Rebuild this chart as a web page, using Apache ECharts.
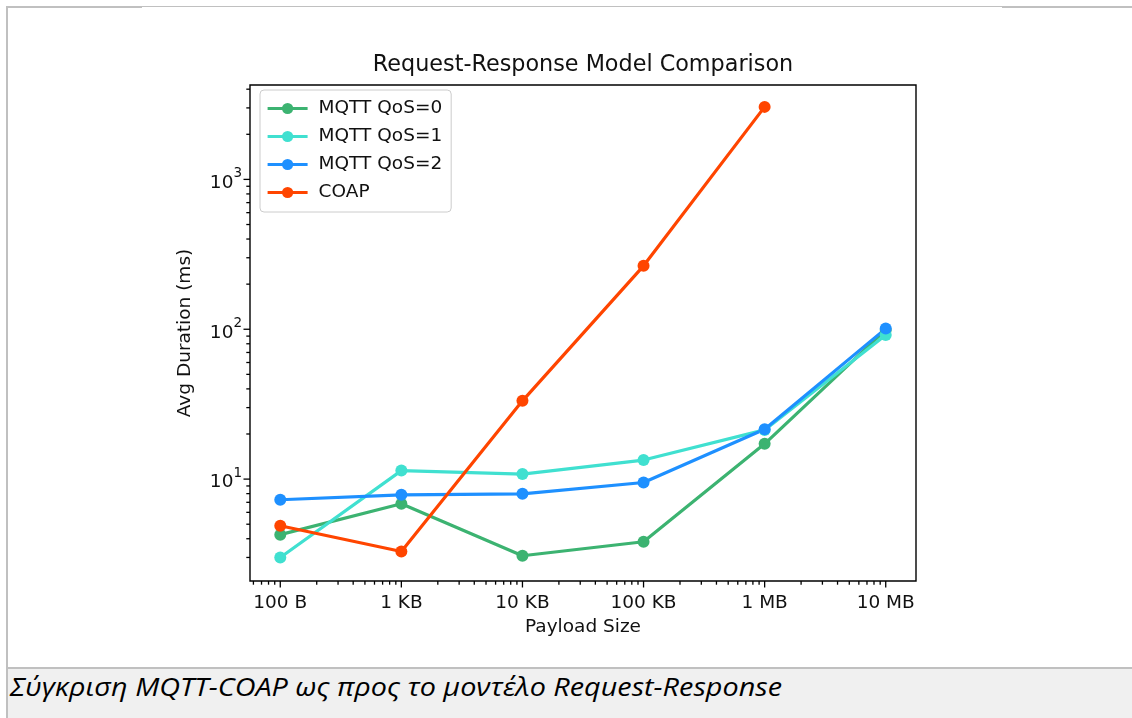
<!DOCTYPE html>
<html>
<head>
<meta charset="utf-8">
<title>Request-Response Model Comparison</title>
<script src="https://cdn.jsdelivr.net/npm/echarts@6/dist/echarts.min.js"></script>
<style>
html, body { margin: 0; padding: 0; background: #fff; overflow: hidden; }
.page { position: relative; width: 1132px; height: 718px; }
#chart { position: absolute; left: 0; top: 0; width: 1132px; height: 718px; }
.line { position: absolute; background: #c0c0c0; }
.caption {
  position: absolute; left: 8px; right: 0; top: 667px; bottom: 0;
  border-top: 2px solid #c0c0c0; background: #f0f0f0;
}
.caption span {
  position: absolute; left: 2px; top: 5px;
  font: italic 25px/25px "Open Sans", sans-serif; color: #000;
  white-space: nowrap; transform-origin: left center;
}
</style>
</head>
<body>
<div class="page">
  <div id="chart"></div>
  <!-- document table borders round the figure -->
  <div class="line" style="left:6px; right:0; top:6px; height:1px;"></div>
  <div class="line" style="left:6px; width:136px; top:6px; height:2px;"></div>
  <div class="line" style="left:1002px; right:0; top:6px; height:2px;"></div>
  <div class="line" style="left:6px; width:2px; top:6px; bottom:0;"></div>
  <div class="caption"><span id="cap">Σύγκριση MQTT-COAP ως προς το μοντέλο Request-Response</span></div>
</div>
<script>
// data (payload size in bytes, avg duration in ms)
const sizes = [100, 1000, 10000, 100000, 1000000, 10000000];
const sizeLabels = ['100 B', '1 KB', '10 KB', '100 KB', '1 MB', '10 MB'];
const qos0 = [4.26, 6.84, 3.08, 3.82, 17.2, 99];
const qos1 = [3.0, 11.4, 10.8, 13.4, 21.3, 91.6];
const qos2 = [7.28, 7.85, 7.98, 9.49, 21.5, 101];
const coap = [4.88, 3.29, 33.3, 265, 3048];
const seriesNames = ['MQTT QoS=0', 'MQTT QoS=1', 'MQTT QoS=2', 'COAP'];
const seriesColors = ['#3cb371', '#40e0d0', '#1e90ff', '#ff4500'];
const yTickValues = [10, 100, 1000];

// axis limits (matplotlib style 5% margins in log space)
const xMin = Math.pow(10, 1.75), xMax = Math.pow(10, 7.25);
const yMin = Math.pow(10, 0.32), yMax = Math.pow(10, 3.63);

const font = 'DejaVu Sans';
const textColor = '#111';

// major + minor log ticks inside a range
function logTicks(lo, hi) {
  const out = [];
  for (let e = Math.floor(Math.log10(lo)); e <= Math.ceil(Math.log10(hi)); e++) {
    for (let m = 1; m < 10; m++) {
      const v = m * Math.pow(10, e);
      if (v >= lo && v <= hi) out.push([v, m === 1 ? 1 : 0]);
    }
  }
  return out;
}

function tickSeries(dim) {
  const ticks = dim === 'x' ? logTicks(xMin, xMax) : logTicks(yMin, yMax);
  return {
    type: 'custom',
    silent: true,
    clip: false,
    z: 5,
    data: ticks.map(t => dim === 'x' ? [t[0], 10, t[1]] : [1000, t[0], t[1]]),
    renderItem: function (params, api) {
      const cs = params.coordSys;
      const p = api.coord([api.value(0), api.value(1)]);
      const len = api.value(2) ? 6.5 : 3.7;
      let shape;
      if (dim === 'x') {
        const y0 = cs.y + cs.height;
        shape = { x1: p[0], y1: y0, x2: p[0], y2: y0 + len };
      } else {
        const x0 = cs.x;
        shape = { x1: x0, y1: p[1], x2: x0 - len, y2: p[1] };
      }
      return { type: 'line', shape: shape, style: { stroke: '#000', lineWidth: 1.3 } };
    }
  };
}

function lineSeries(name, values, color) {
  return {
    name: name,
    type: 'line',
    data: values.map((v, i) => [sizes[i], v]),
    symbol: 'circle',
    symbolSize: 12,
    showSymbol: true,
    lineStyle: { width: 3.2, color: color },
    itemStyle: { color: color },
    emphasis: { disabled: true }
  };
}

const chart = echarts.init(document.getElementById('chart'), null, { renderer: 'canvas' });

const option = {
  animation: false,
  backgroundColor: 'transparent',
  title: {
    text: 'Request-Response Model Comparison',
    left: 583,
    top: 54,
    padding: 0,
    textAlign: 'center',
    textStyle: { fontFamily: font, fontSize: 22.3, fontWeight: 'normal', color: textColor }
  },
  legend: {
    data: seriesNames,
    orient: 'vertical',
    left: 260,
    top: 90,
    itemWidth: 40,
    itemHeight: 14,
    itemGap: 9,
    padding: [9, 9, 10, 6],
    backgroundColor: 'rgba(255,255,255,0.8)',
    borderColor: '#cccccc',
    borderWidth: 1,
    borderRadius: 4,
    lineStyle: { width: 3.2 },
    textStyle: { fontFamily: font, fontSize: 18.5, lineHeight: 19, color: textColor, padding: [0, 0, 0, 6] }
  },
  grid: {
    left: 250, top: 85, width: 666, height: 496,
    show: true, borderColor: '#000', borderWidth: 1.4, backgroundColor: 'transparent'
  },
  xAxis: {
    type: 'log',
    logBase: 10,
    min: xMin,
    max: xMax,
    name: 'Payload Size',
    nameLocation: 'middle',
    nameGap: 37,
    nameTextStyle: { fontFamily: font, fontSize: 18.5, color: textColor },
    axisLine: { show: false },
    axisTick: { show: false },
    splitLine: { show: false },
    axisLabel: {
      margin: 13,
      fontFamily: font, fontSize: 18.5, color: textColor,
      formatter: function (v) {
        for (let i = 0; i < sizes.length; i++) {
          if (Math.abs(Math.log10(v) - Math.log10(sizes[i])) < 1e-6) return sizeLabels[i];
        }
        return '';
      }
    }
  },
  yAxis: {
    type: 'log',
    logBase: 10,
    min: yMin,
    max: yMax,
    name: 'Avg Duration (ms)',
    nameLocation: 'middle',
    nameGap: 55,
    nameTextStyle: { fontFamily: font, fontSize: 18.5, color: textColor },
    axisLine: { show: false },
    axisTick: { show: false },
    splitLine: { show: false },
    axisLabel: {
      margin: 8,
      formatter: function (v) {
        for (let i = 0; i < yTickValues.length; i++) {
          if (Math.abs(Math.log10(v) - Math.log10(yTickValues[i])) < 1e-6) {
            return '{b|10}{s|' + Math.round(Math.log10(yTickValues[i])) + '}';
          }
        }
        return '';
      },
      rich: {
        b: { fontFamily: font, fontSize: 18.5, color: textColor, lineHeight: 26, verticalAlign: 'bottom' },
        s: { fontFamily: font, fontSize: 13.5, color: textColor, lineHeight: 26, verticalAlign: 'top' }
      }
    }
  },
  series: [
    lineSeries(seriesNames[0], qos0, seriesColors[0]),
    lineSeries(seriesNames[1], qos1, seriesColors[1]),
    lineSeries(seriesNames[2], qos2, seriesColors[2]),
    lineSeries(seriesNames[3], coap, seriesColors[3]),
    tickSeries('x'),
    tickSeries('y')
  ]
};

chart.setOption(option);

// squeeze the caption to the width of the original (narrower) document font
const cap = document.getElementById('cap');
const w = cap.getBoundingClientRect().width;
if (w > 0) cap.style.transform = 'scaleX(' + (772 / w) + ')';
</script>
</body>
</html>
